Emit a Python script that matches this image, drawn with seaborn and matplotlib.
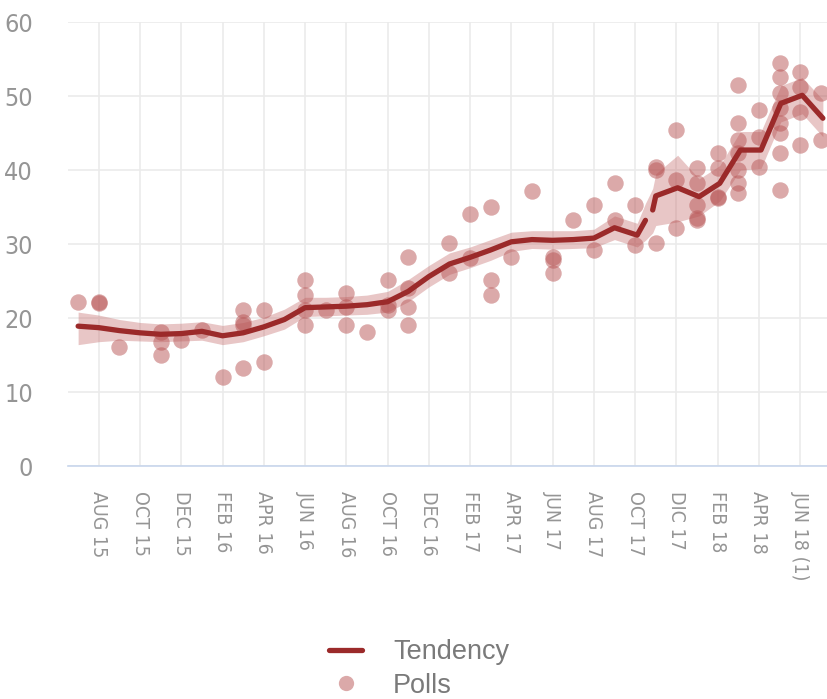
import numpy as np
import pandas as pd
import seaborn as sns
import matplotlib.pyplot as plt
from matplotlib.lines import Line2D

# months counted from Aug 2015 (=0)
tick_months = list(range(0, 35, 2))
tick_labels = ['AUG 15', 'OCT 15', 'DEC 15', 'FEB 16', 'APR 16', 'JUN 16',
               'AUG 16', 'OCT 16', 'DEC 16', 'FEB 17', 'APR 17', 'JUN 17',
               'AUG 17', 'OCT 17', 'DIC 17', 'FEB 18', 'APR 18', 'JUN 18 (1)']

poll_month = [-1, 0, 0, 1, 3, 3, 3, 4, 5, 6, 7, 7, 7, 7, 8, 8,
              10, 10, 10, 10, 11, 12, 12, 12, 13, 14, 14, 14, 15, 15, 15, 15,
              17, 17, 18, 18, 19, 19, 19, 20, 21, 22, 22, 22, 23, 24, 24,
              25, 25, 26, 26, 27, 27, 27, 28, 28, 28, 29, 29, 29, 29, 29,
              30, 30, 30, 30, 31, 31, 31, 31, 31, 31, 31, 32, 32, 32,
              33, 33, 33, 33, 33, 33, 33, 33, 34, 34, 34, 34, 35, 35]
poll_value = [22.2, 22.2, 22.0, 16.1, 18.1, 16.8, 15.0, 17.0, 18.4, 12.0, 21.1, 19.5, 19.0, 13.2, 21.1, 14.1,
              25.1, 23.1, 21.1, 19.0, 21.1, 23.4, 21.5, 19.0, 18.1, 25.1, 21.1, 21.8, 28.2, 24.0, 21.5, 19.0,
              30.1, 26.1, 28.1, 34.1, 35.0, 25.1, 23.1, 28.2, 37.2, 28.2, 27.8, 26.1, 33.2, 35.3, 29.2,
              38.2, 33.2, 35.3, 29.9, 30.1, 40.4, 40.0, 45.4, 38.6, 32.2, 40.3, 38.2, 35.3, 33.2, 33.5,
              42.3, 40.3, 36.4, 36.2, 51.5, 46.4, 44.1, 42.3, 38.2, 36.9, 40.0, 48.1, 44.5, 40.4,
              54.5, 52.6, 50.4, 48.4, 46.4, 42.3, 37.3, 45.0, 53.2, 51.2, 47.8, 43.4, 50.4, 44.1]

trend_month = [-1, 0, 1, 2, 3, 4, 5, 6, 7, 8, 9, 10, 11, 12, 13, 14, 15, 16, 17, 18,
               19, 20, 21, 22, 23, 24, 25, 26.1, 26.5,
               26.85, 27.0, 28.06, 29.1, 30.1, 31.1, 32.1, 33.06, 34.1, 35.1]
trend_value = [18.9, 18.7, 18.3, 18.0, 17.8, 17.9, 18.2, 17.6, 18.0, 18.8, 19.8, 21.4, 21.5, 21.6, 21.8, 22.2, 23.6, 25.6, 27.3, 28.2,
               29.2, 30.3, 30.6, 30.5, 30.6, 30.8, 32.2, 31.2, 33.2,
               34.6, 36.5, 37.6, 36.4, 38.2, 42.7, 42.7, 49.0, 50.1, 47.0]
trend_low = [16.4, 16.8, 17.0, 16.9, 16.8, 16.9, 17.0, 16.4, 16.8, 17.6, 18.5, 20.2, 20.3, 20.4, 20.5, 20.8, 22.2, 24.2, 25.9, 26.8,
             27.8, 29.0, 29.4, 29.3, 29.4, 29.5, 30.6, 29.6, 30.5,
             31.5, 32.5, 33.0, 33.8, 35.8, 40.0, 40.2, 46.5, 47.6, 44.5]
trend_high = [20.8, 20.4, 19.8, 19.4, 19.2, 19.3, 19.5, 19.0, 19.4, 20.1, 21.2, 22.8, 22.8, 22.9, 23.1, 23.6, 25.2, 27.1, 28.8, 29.6,
              30.6, 31.6, 31.8, 31.8, 31.8, 32.0, 33.8, 32.8, 35.5,
              37.5, 39.5, 42.0, 38.8, 40.6, 45.2, 45.2, 51.4, 52.5, 49.5]
gap_at = 29  # line breaks before this index

polls = pd.DataFrame({'month': poll_month, 'value': poll_value})
trend = pd.DataFrame({'month': trend_month, 'value': trend_value,
                      'low': trend_low, 'high': trend_high})

sns.set_style("white")
plt.rcParams['font.family'] = ['DejaVu Sans']

line_color = '#9b2a2a'
dot_color = '#b85555'
text_gray = '#959595'

fig = plt.figure(figsize=(8.27, 6.99), dpi=100)
ax = fig.add_axes([0.082, 0.3333, 0.918, 0.6352])

ax.fill_between(trend['month'], trend['low'], trend['high'],
                color='#c46a6a', alpha=0.38, linewidth=0)
sns.scatterplot(x='month', y='value', data=polls, ax=ax, s=140,
                color=dot_color, alpha=0.5, linewidth=0, zorder=3)
sns.lineplot(x='month', y='value', data=trend.iloc[:gap_at], ax=ax,
             color=line_color, linewidth=3.8, zorder=4)
sns.lineplot(x='month', y='value', data=trend.iloc[gap_at:], ax=ax,
             color=line_color, linewidth=3.8, zorder=4)

ax.set_xlim(-1.5, 35.3)
ax.set_ylim(0, 60)
ax.set_yticks(range(0, 61, 10))
ax.set_xticks(tick_months)
ax.set_xticklabels(tick_labels, rotation=270, va='top', ha='center')
ax.set_xlabel('')
ax.set_ylabel('')
ax.grid(True, color='#ebebeb', linewidth=1.2)
ax.set_axisbelow(True)
for side in ['top', 'right', 'left']:
    ax.spines[side].set_visible(False)
ax.spines['bottom'].set_color('#c8d6ec')
ax.spines['bottom'].set_linewidth(1.2)
ax.tick_params(axis='x', length=15, width=1, color='#c8d6ec', pad=3,
               labelsize=14, labelcolor=text_gray)
ax.tick_params(axis='y', length=0, pad=25, labelsize=18, labelcolor=text_gray)
for lab in ax.get_xticklabels() + ax.get_yticklabels():
    lab.set_fontstretch('condensed')
    lab.set_fontweight('light')

handles = [Line2D([], [], color=line_color, linewidth=3.8),
           Line2D([], [], marker='o', linestyle='', markersize=11,
                  markerfacecolor=dot_color, markeredgewidth=0, alpha=0.5)]
leg = fig.legend(handles, ['Tendency', 'Polls'], loc='center',
                 bbox_to_anchor=(0.507, 0.043), frameon=False,
                 prop={'family': 'Liberation Sans', 'size': 19.5},
                 handlelength=1.2, handletextpad=1.15, labelspacing=0.27)
for t in leg.get_texts():
    t.set_color('#7a7a7a')

fig.savefig('out.png', dpi=100)
